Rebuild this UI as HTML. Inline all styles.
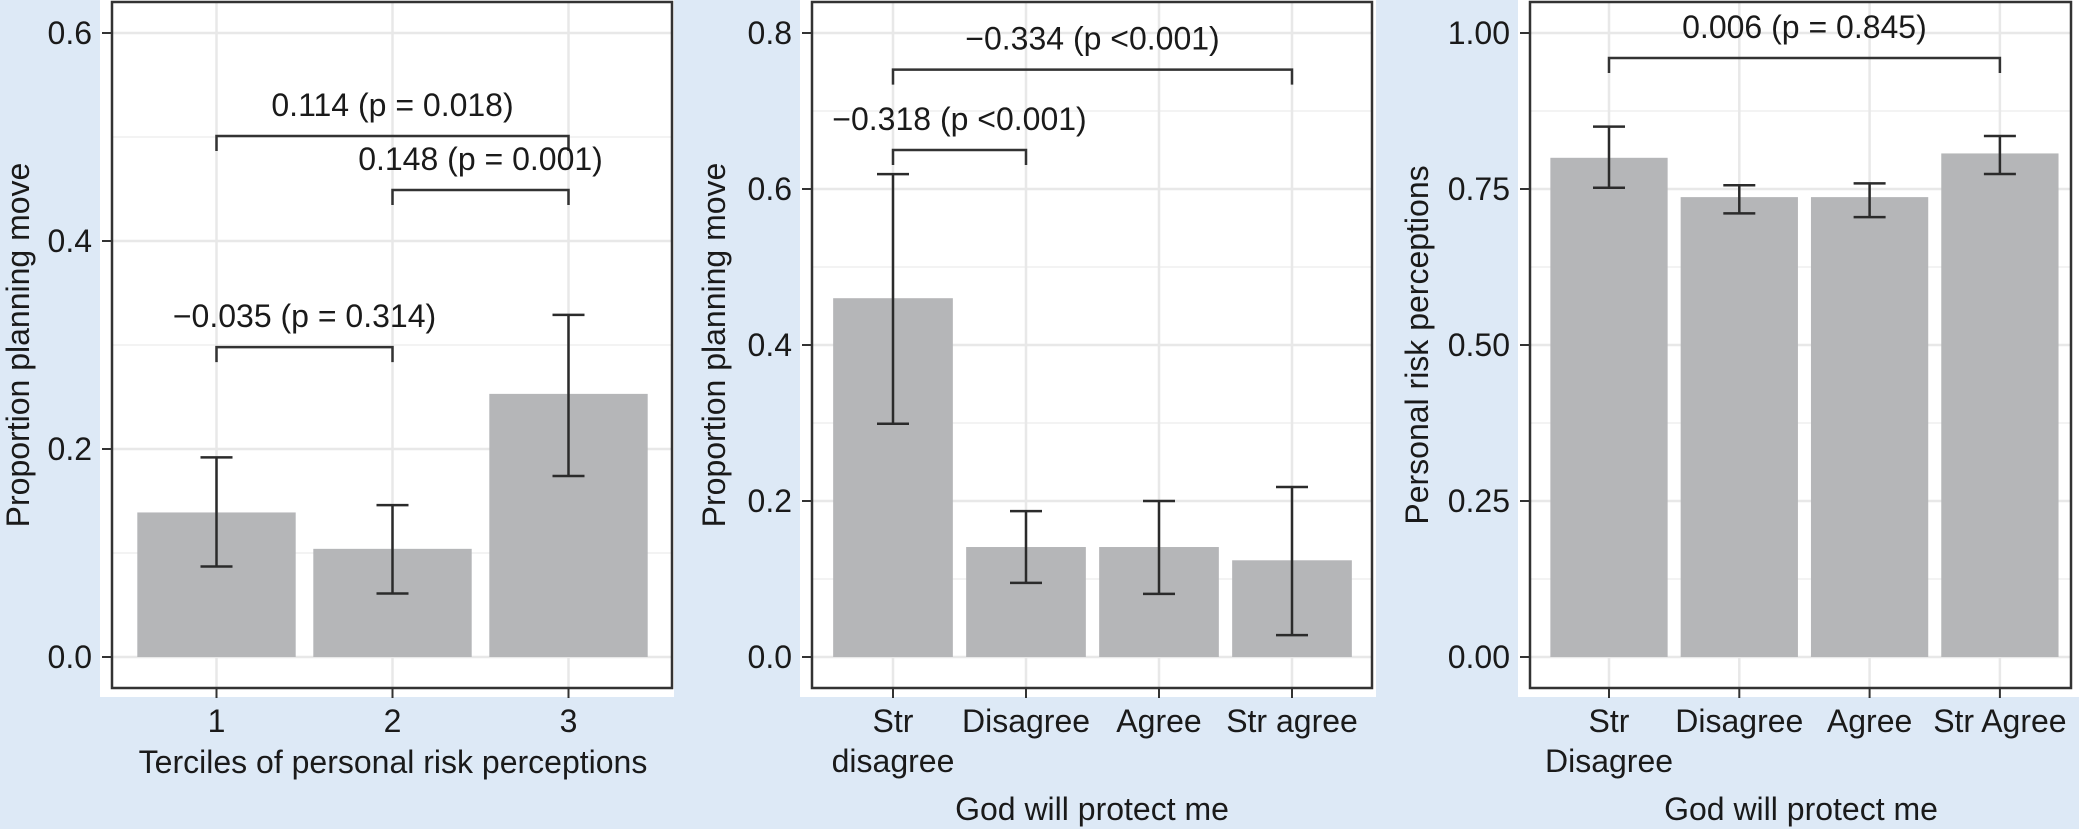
<!DOCTYPE html>
<html><head><meta charset="utf-8"><style>
html,body{margin:0;padding:0;background:#dde9f6;}
svg{display:block;font-family:"Liberation Sans",Arial,sans-serif;}
</style></head><body>
<svg id="chart" width="2079" height="829" viewBox="0 0 2079 829" xmlns="http://www.w3.org/2000/svg">
<rect x="0" y="0" width="2079" height="829" fill="#dde9f6"/>
</svg>
<script>
// Panel 1 data
const p1Categories = ["1", "2", "3"];
const p1Values = [0.139, 0.104, 0.253];
const p1Lower = [0.087, 0.061, 0.174];
const p1Upper = [0.192, 0.146, 0.329];
const p1Ticks = [0.0, 0.2, 0.4, 0.6];
const p1TickLabels = ["0.0", "0.2", "0.4", "0.6"];
const p1BracketFrom = [0, 0, 1];
const p1BracketTo = [1, 2, 2];
const p1BracketY = [0.298, 0.501, 0.449];
const p1BracketLabels = ["\u22120.035 (p = 0.314)", "0.114 (p = 0.018)", "0.148 (p = 0.001)"];

// Panel 2 data
const p2Categories = [["Str", "disagree"], ["Disagree"], ["Agree"], ["Str agree"]];
const p2Values = [0.46, 0.141, 0.141, 0.124];
const p2Lower = [0.299, 0.095, 0.081, 0.028];
const p2Upper = [0.619, 0.187, 0.200, 0.218];
const p2Ticks = [0.0, 0.2, 0.4, 0.6, 0.8];
const p2TickLabels = ["0.0", "0.2", "0.4", "0.6", "0.8"];
const p2BracketFrom = [0, 0];
const p2BracketTo = [3, 1];
const p2BracketY = [0.753, 0.65];
const p2BracketLabels = ["\u22120.334 (p <0.001)", "\u22120.318 (p <0.001)"];

// Panel 3 data
const p3Categories = [["Str", "Disagree"], ["Disagree"], ["Agree"], ["Str Agree"]];
const p3Values = [0.80, 0.737, 0.737, 0.807];
const p3Lower = [0.752, 0.711, 0.705, 0.774];
const p3Upper = [0.85, 0.756, 0.759, 0.835];
const p3Ticks = [0.0, 0.25, 0.5, 0.75, 1.0];
const p3TickLabels = ["0.00", "0.25", "0.50", "0.75", "1.00"];
const p3BracketFrom = [0];
const p3BracketTo = [3];
const p3BracketY = [0.96];
const p3BracketLabels = ["0.006 (p = 0.845)"];

const NS = "http://www.w3.org/2000/svg";
const svg = document.getElementById("chart");
function mk(tag, attrs, parent) {
  const e = document.createElementNS(NS, tag);
  for (const k in attrs) e.setAttribute(k, attrs[k]);
  (parent || svg).appendChild(e);
  return e;
}

function drawPanel(cfg) {
  const g = mk("g", {});
  
  
  // white panel background
  const bg = mk("rect", {x: cfg.bgX0, y: 0, width: cfg.bgX1 - cfg.bgX0, height: 697, fill: "#ffffff"}, g);
  
  
  const L = cfg.left, R = cfg.right, T = 2, B = 688;
  const y0 = 657, ppu = cfg.ppu;
  const yScale = v => y0 - v * ppu;
  const n = cfg.categories.length;
  const xScale = i => cfg.x0 + i * cfg.step;
  const bw = cfg.step * 0.9;
  // grid minor
  for (let i = 0; i < cfg.ticks.length - 1; i++) {
    const mv = (cfg.ticks[i] + cfg.ticks[i + 1]) / 2;
    const gl = mk("line", {x1: L, x2: R, y1: yScale(mv), y2: yScale(mv), stroke: "#efefef", "stroke-width": 1.5}, g);
    
    
  }
  cfg.ticks.forEach(t => {
    const gl = mk("line", {x1: L, x2: R, y1: yScale(t), y2: yScale(t), stroke: "#e8e8e8", "stroke-width": 2.5}, g);
    
    
  });
  for (let i = 0; i < n; i++) {
    const gl = mk("line", {x1: xScale(i), x2: xScale(i), y1: T, y2: B, stroke: "#e8e8e8", "stroke-width": 2.5}, g);
    
    
  }
  // bars
  for (let i = 0; i < n; i++) {
    const v = cfg.values[i];
    const b = mk("rect", {x: xScale(i) - bw / 2, y: yScale(v), width: bw, height: yScale(0) - yScale(v), fill: "#b5b6b8"}, g);
    
    
  }
  // error bars
  for (let i = 0; i < n; i++) {
    const x = xScale(i), lo = yScale(cfg.lower[i]), hi = yScale(cfg.upper[i]);
    const eg = mk("g", {stroke: "#2b2b2b", "stroke-width": 2.5}, g);
    
    
    mk("line", {x1: x, x2: x, y1: lo, y2: hi}, eg);
    mk("line", {x1: x - 16, x2: x + 16, y1: lo, y2: lo}, eg);
    mk("line", {x1: x - 16, x2: x + 16, y1: hi, y2: hi}, eg);
  }
  // brackets
  for (let k = 0; k < cfg.bFrom.length; k++) {
    const xa = xScale(cfg.bFrom[k]), xb = xScale(cfg.bTo[k]), yb = yScale(cfg.bY[k]);
    const bp = mk("path", {d: `M${xa},${yb + 15}V${yb}H${xb}V${yb + 15}`, fill: "none", stroke: "#333", "stroke-width": 2.5}, g);
    
    
    const bt = mk("text", {x: (xa + xb) / 2, y: yb - 20, "text-anchor": "middle", "font-size": 32, fill: "#1a1a1a"}, g);
    bt.textContent = cfg.bLabels[k];
    
    
  }
  // frame
  const fr = mk("rect", {x: L, y: T, width: R - L, height: B - T, fill: "none", stroke: "#333", "stroke-width": 2.5}, g);
  
  
  // y ticks
  cfg.ticks.forEach((t, i) => {
    const tl = mk("line", {x1: L - 10, x2: L, y1: yScale(t), y2: yScale(t), stroke: "#333", "stroke-width": 2}, g);
    
    
    const tx = mk("text", {x: L - 20, y: yScale(t) + 11, "text-anchor": "end", "font-size": 32, fill: "#1a1a1a"}, g);
    tx.textContent = cfg.tickLabels[i];
    
    
  });
  // x ticks
  for (let i = 0; i < n; i++) {
    const x = xScale(i);
    const tl = mk("line", {x1: x, x2: x, y1: B, y2: B + 10, stroke: "#333", "stroke-width": 2}, g);
    
    
    const lines = Array.isArray(cfg.categories[i]) ? cfg.categories[i] : [cfg.categories[i]];
    lines.forEach((ln, j) => {
      const tx = mk("text", {x: x, y: 732 + j * 40, "text-anchor": "middle", "font-size": 32, fill: "#1a1a1a"}, g);
      tx.textContent = ln;
      
      
    });
  }
  // axis titles
  const xt = mk("text", {x: cfg.xTitleX, y: cfg.xTitleY, "text-anchor": "middle", "font-size": 32, fill: "#1a1a1a"}, g);
  xt.textContent = cfg.xTitle;
  
  
  const yt = mk("text", {x: 0, y: 0, "text-anchor": "middle", "font-size": 32, fill: "#1a1a1a", transform: `translate(${cfg.yTitleX},345) rotate(-90)`}, g);
  yt.textContent = cfg.yTitle;
  
  
}

drawPanel({name: "panel-risk-terciles", bgX0: 100, bgX1: 674, left: 112, right: 672, ppu: 1040,
  x0: 216.5, step: 176, categories: p1Categories, values: p1Values, lower: p1Lower, upper: p1Upper,
  ticks: p1Ticks, tickLabels: p1TickLabels, bFrom: p1BracketFrom, bTo: p1BracketTo, bY: p1BracketY, bLabels: p1BracketLabels,
  xTitle: "Terciles of personal risk perceptions", xTitleX: 393, xTitleY: 773, yTitle: "Proportion planning move", yTitleX: 29});

drawPanel({name: "panel-god-planning", bgX0: 800, bgX1: 1376, left: 812, right: 1372, ppu: 780,
  x0: 893, step: 133, categories: p2Categories, values: p2Values, lower: p2Lower, upper: p2Upper,
  ticks: p2Ticks, tickLabels: p2TickLabels, bFrom: p2BracketFrom, bTo: p2BracketTo, bY: p2BracketY, bLabels: p2BracketLabels,
  xTitle: "God will protect me", xTitleX: 1092, xTitleY: 820, yTitle: "Proportion planning move", yTitleX: 725});

drawPanel({name: "panel-god-risk", bgX0: 1518, bgX1: 2079, left: 1530, right: 2071, ppu: 624,
  x0: 1609, step: 130.3, categories: p3Categories, values: p3Values, lower: p3Lower, upper: p3Upper,
  ticks: p3Ticks, tickLabels: p3TickLabels, bFrom: p3BracketFrom, bTo: p3BracketTo, bY: p3BracketY, bLabels: p3BracketLabels,
  xTitle: "God will protect me", xTitleX: 1801, xTitleY: 820, yTitle: "Personal risk perceptions", yTitleX: 1428});
</script>
</body></html>
